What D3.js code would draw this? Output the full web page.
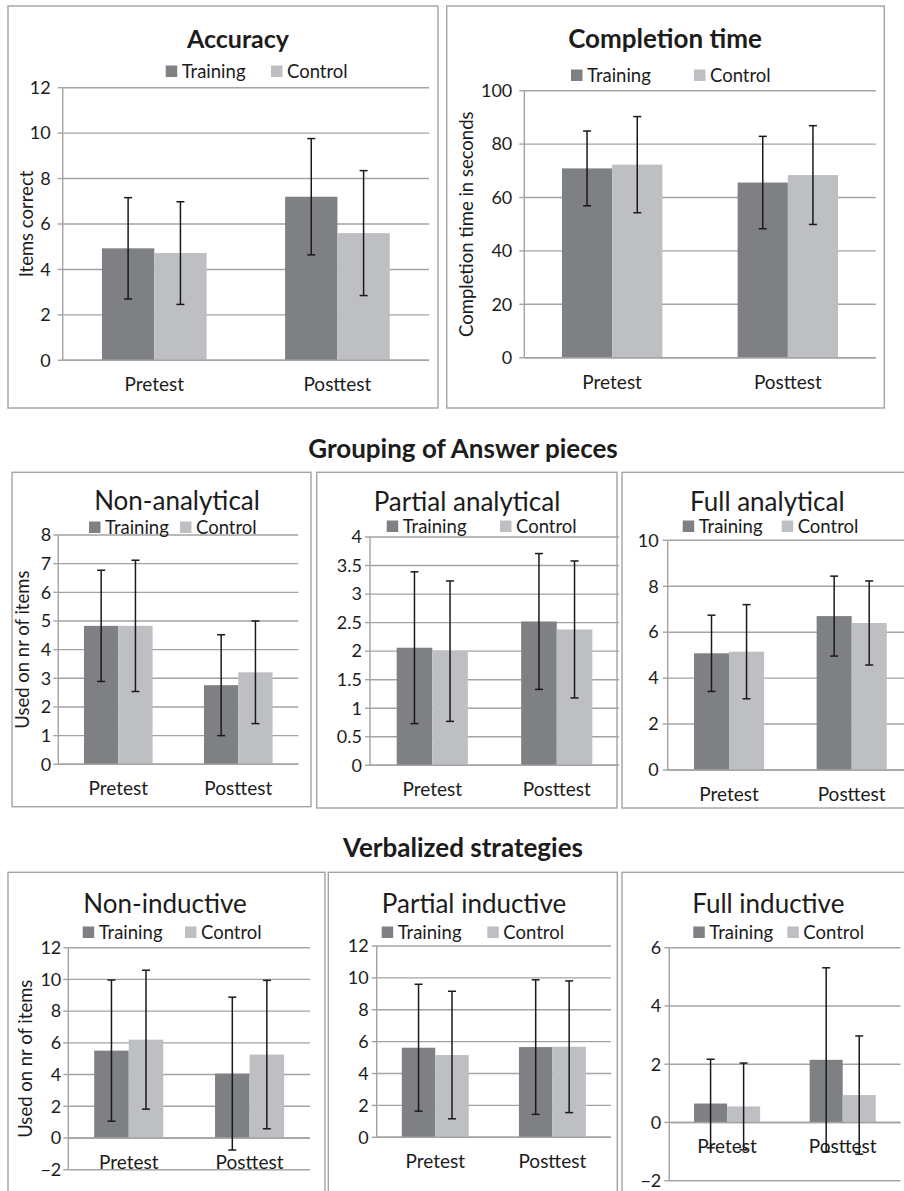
<!DOCTYPE html>
<html lang="en">
<head>
<meta charset="UTF-8">
<title>Training vs Control</title>
<script src="https://cdnjs.cloudflare.com/ajax/libs/d3/7.8.5/d3.min.js"></script>
<style>
    body { margin: 0; background: #fff; }
    svg { display: block; font-family: Lato, "Open Sans", sans-serif; }
</style>
</head>
<body>
<svg width="904" height="1191"></svg>
<script>
    // data (means and SD error bars)
    const categories = ["Pretest", "Posttest"];
    const series = ["Training", "Control"];

    const accuracyTraining = [4.93, 7.2];
    const accuracyTrainingSD = [2.23, 2.56];
    const accuracyControl = [4.72, 5.6];
    const accuracyControlSD = [2.26, 2.75];

    const timeTraining = [70.9, 65.6];
    const timeTrainingSD = [14.0, 17.3];
    const timeControl = [72.3, 68.4];
    const timeControlSD = [18.0, 18.5];

    const nonAnalyticalTraining = [4.83, 2.76];
    const nonAnalyticalTrainingSD = [1.94, 1.76];
    const nonAnalyticalControl = [4.83, 3.21];
    const nonAnalyticalControlSD = [2.29, 1.79];

    const partialAnalyticalTraining = [2.06, 2.52];
    const partialAnalyticalTrainingSD = [1.33, 1.19];
    const partialAnalyticalControl = [2.0, 2.38];
    const partialAnalyticalControlSD = [1.23, 1.2];

    const fullAnalyticalTraining = [5.08, 6.7];
    const fullAnalyticalTrainingSD = [1.66, 1.74];
    const fullAnalyticalControl = [5.15, 6.4];
    const fullAnalyticalControlSD = [2.05, 1.83];

    const nonInductiveTraining = [5.51, 4.06];
    const nonInductiveTrainingSD = [4.45, 4.82];
    const nonInductiveControl = [6.2, 5.26];
    const nonInductiveControlSD = [4.38, 4.68];

    const partialInductiveTraining = [5.62, 5.66];
    const partialInductiveTrainingSD = [3.98, 4.22];
    const partialInductiveControl = [5.16, 5.68];
    const partialInductiveControlSD = [4.0, 4.13];

    const fullInductiveTraining = [0.65, 2.15];
    const fullInductiveTrainingSD = [1.52, 3.16];
    const fullInductiveControl = [0.55, 0.94];
    const fullInductiveControlSD = [1.49, 2.03];

    const sectionTitles = ["Grouping of Answer pieces", "Verbalized strategies"];

    const colors = { Training: "#7f8084", Control: "#bebfc3" };
    const gridColor = "#a3a3a3";
    const textColor = "#1c1c1c";

    const svg = d3.select("svg");

    // layout of each panel (box, plot area, title/legend placement)
    const panels = [
        { title: "Accuracy", bold: true, titleSize: 25, ylabel: "Items correct",
          training: accuracyTraining, trainingSD: accuracyTrainingSD, control: accuracyControl, controlSD: accuracyControlSD,
          domain: [0, 12], step: 2,
          box: [8, 6, 430, 402], plot: [62.7, 429, 87.7, 360.3],
          titleX: 238, titleY: 48, legendY: 78, legendX: [165.7, 271], ylabelX: 27, tickGap: 12 },
        { title: "Completion time", bold: true, titleSize: 26, ylabel: "Completion time in seconds",
          training: timeTraining, trainingSD: timeTrainingSD, control: timeControl, controlSD: timeControlSD,
          domain: [0, 100], step: 20,
          box: [446.7, 6, 437.6, 402], plot: [524.3, 875.7, 90.7, 357.7],
          titleX: 665, titleY: 48, legendY: 82, legendX: [571, 694], ylabelX: 467, tickGap: 12 },
        { title: "Non-analytical", titleSize: 26, ylabel: "Used on nr of items",
          training: nonAnalyticalTraining, trainingSD: nonAnalyticalTrainingSD, control: nonAnalyticalControl, controlSD: nonAnalyticalControlSD,
          domain: [0, 8], step: 1,
          box: [12, 472.3, 299, 334.4], plot: [58.3, 298.3, 535, 764.3],
          titleX: 177, titleY: 510, legendY: 534, legendX: [89, 180], ylabelX: 23, tickGap: 7 },
        { title: "Partial analytical", titleSize: 26,
          training: partialAnalyticalTraining, trainingSD: partialAnalyticalTrainingSD, control: partialAnalyticalControl, controlSD: partialAnalyticalControlSD,
          domain: [0, 4], step: 0.5,
          box: [316.7, 472.3, 300.3, 335.7], plot: [370, 619, 537, 765.3],
          titleX: 467, titleY: 511, legendY: 533, legendX: [386.7, 500], tickGap: 8 },
        { title: "Full analytical", titleSize: 26,
          training: fullAnalyticalTraining, trainingSD: fullAnalyticalTrainingSD, control: fullAnalyticalControl, controlSD: fullAnalyticalControlSD,
          domain: [0, 10], step: 2,
          box: [622, 472.3, 300, 335.7], plot: [667.7, 913, 540.3, 770],
          titleX: 767.3, titleY: 511, legendY: 533, legendX: [682.7, 781.7], tickGap: 9 },
        { title: "Non-inductive", titleSize: 26, ylabel: "Used on nr of items",
          training: nonInductiveTraining, trainingSD: nonInductiveTrainingSD, control: nonInductiveControl, controlSD: nonInductiveControlSD,
          domain: [-2, 12], step: 2,
          box: [8, 872.3, 317, 330], plot: [68.3, 310, 947.7, 1169.7],
          titleX: 165, titleY: 913, legendY: 939, legendX: [82.7, 185], ylabelX: 26, tickGap: 7 },
        { title: "Partial inductive", titleSize: 26,
          training: partialInductiveTraining, trainingSD: partialInductiveTrainingSD, control: partialInductiveControl, controlSD: partialInductiveControlSD,
          domain: [0, 12], step: 2,
          box: [328.3, 872.3, 289, 330], plot: [376.7, 611, 946, 1137.3],
          titleX: 474, titleY: 913, legendY: 939, legendX: [381.7, 487.3], tickGap: 8 },
        { title: "Full inductive", titleSize: 26,
          training: fullInductiveTraining, trainingSD: fullInductiveTrainingSD, control: fullInductiveControl, controlSD: fullInductiveControlSD,
          domain: [-2, 6], step: 2,
          box: [622, 872.3, 300, 330], plot: [669.3, 900.5, 947.7, 1180.7],
          titleX: 768.3, titleY: 913, legendY: 939, legendX: [693.3, 787.3], tickGap: 8 }
    ];

    function drawPanel(p) {
        const g = svg.append("g");
        const [bx, by, bw, bh] = p.box;
        const [left, right, top, bottom] = p.plot;

        g.append("rect")
            .attr("x", bx).attr("y", by).attr("width", bw).attr("height", bh)
            .attr("fill", "none").attr("stroke", gridColor).attr("stroke-width", 1.4);

        const y = d3.scaleLinear().domain(p.domain).range([bottom, top]);
        const ticks = d3.range(p.domain[0], p.domain[1] + p.step / 2, p.step);

        const x0 = d3.scaleBand().domain(categories).range([left, right]);
        // Excel gap width 150%: two bars + 1.5 bar widths of gap per category
        const x1 = d3.scaleBand().domain(series).range([0, x0.bandwidth()]).paddingInner(0).paddingOuter(0.75);

        // gridlines
        g.append("g").selectAll("line").data(ticks).join("line")
            .attr("x1", left).attr("x2", right)
            .attr("y1", d => y(d)).attr("y2", d => y(d))
            .attr("stroke", gridColor).attr("stroke-width", 1.4);

        const rows = [];
        categories.forEach((c, i) => {
            rows.push({ cat: c, s: "Training", v: p.training[i], sd: p.trainingSD[i] });
            rows.push({ cat: c, s: "Control", v: p.control[i], sd: p.controlSD[i] });
        });

        g.append("g").selectAll("rect").data(rows).join("rect")
            .attr("x", d => x0(d.cat) + x1(d.s))
            .attr("width", x1.bandwidth())
            .attr("y", d => y(Math.max(0, d.v)))
            .attr("height", d => Math.abs(y(d.v) - y(0)))
            .attr("fill", d => colors[d.s]);

        // value axis with outside ticks
        const yAxis = g.append("g");
        yAxis.append("line")
            .attr("x1", left).attr("x2", left).attr("y1", top).attr("y2", bottom)
            .attr("stroke", gridColor).attr("stroke-width", 1.4);
        yAxis.selectAll(".tk").data(ticks).join("line")
            .attr("x1", left - 5).attr("x2", left)
            .attr("y1", d => y(d)).attr("y2", d => y(d))
            .attr("stroke", gridColor).attr("stroke-width", 1.4);
        yAxis.selectAll("text").data(ticks).join("text")
            .attr("x", left - p.tickGap)
            .attr("y", d => y(d))
            .attr("dy", "0.35em")
            .attr("text-anchor", "end")
            .attr("font-size", 18)
            .attr("fill", textColor)
            .text(d => d3.format("~g")(d));

        // category axis at zero
        g.append("line")
            .attr("x1", left).attr("x2", right).attr("y1", y(0)).attr("y2", y(0))
            .attr("stroke", gridColor).attr("stroke-width", 1.4);

        g.append("g").selectAll("text").data(categories).join("text")
            .attr("x", d => x0(d) + x0.bandwidth() / 2)
            .attr("y", y(0) + 31)
            .attr("text-anchor", "middle")
            .attr("font-size", 19)
            .attr("fill", textColor)
            .text(d => d);

        // error bars
        const eb = g.append("g").attr("stroke", "#1a1a1a").attr("stroke-width", 1.5);
        rows.forEach(d => {
            const cx = x0(d.cat) + x1(d.s) + x1.bandwidth() / 2;
            const y1 = y(d.v + d.sd), y2 = y(d.v - d.sd);
            eb.append("line").attr("x1", cx).attr("x2", cx).attr("y1", y1).attr("y2", y2);
            eb.append("line").attr("x1", cx - 4).attr("x2", cx + 4).attr("y1", y1).attr("y2", y1);
            eb.append("line").attr("x1", cx - 4).attr("x2", cx + 4).attr("y1", y2).attr("y2", y2);
        });

        // title
        g.append("text")
            .attr("x", p.titleX).attr("y", p.titleY)
            .attr("text-anchor", "middle")
            .attr("font-size", p.titleSize)
            .attr("font-weight", p.bold ? "bold" : "normal")
            .attr("fill", textColor)
            .text(p.title);

        // legend
        series.forEach((s, i) => {
            const lx = p.legendX[i];
            g.append("rect")
                .attr("x", lx).attr("y", p.legendY - 12.5)
                .attr("width", 11.5).attr("height", 11.5)
                .attr("fill", colors[s]);
            g.append("text")
                .attr("x", lx + 16).attr("y", p.legendY)
                .attr("font-size", 18.5)
                .attr("fill", textColor)
                .text(s);
        });

        if (p.ylabel) {
            g.append("text")
                .attr("transform", `translate(${p.ylabelX},${(top + bottom) / 2}) rotate(-90)`)
                .attr("text-anchor", "middle")
                .attr("dy", "0.35em")
                .attr("font-size", 18.5)
                .attr("fill", textColor)
                .text(p.ylabel);
        }
    }

    panels.forEach(drawPanel);

    svg.append("text")
        .attr("x", 463).attr("y", 458)
        .attr("text-anchor", "middle")
        .attr("font-size", 26).attr("font-weight", "bold")
        .attr("fill", textColor)
        .text(sectionTitles[0]);

    svg.append("text")
        .attr("x", 463).attr("y", 857)
        .attr("text-anchor", "middle")
        .attr("font-size", 26).attr("font-weight", "bold")
        .attr("fill", textColor)
        .text(sectionTitles[1]);
</script>
</body>
</html>
